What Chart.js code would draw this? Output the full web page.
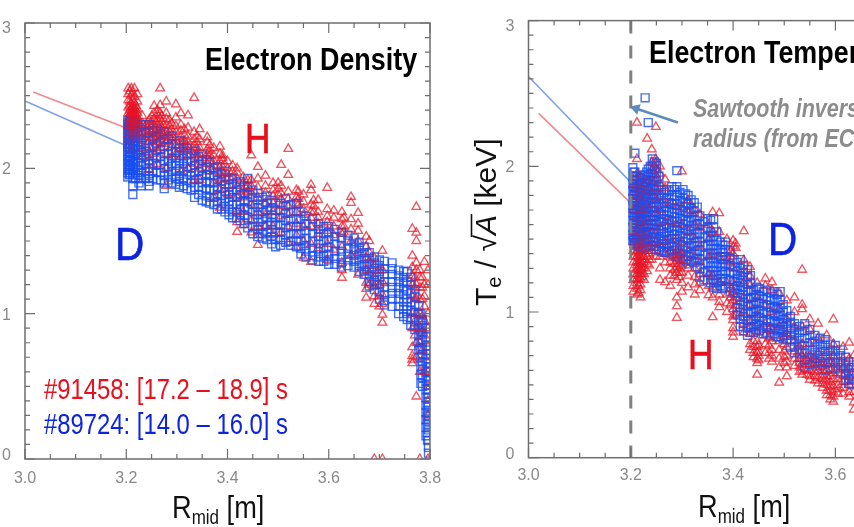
<!DOCTYPE html>
<html><head><meta charset="utf-8">
<script src="https://cdn.jsdelivr.net/npm/chart.js@4"></script>
<style>
html,body{margin:0;padding:0;background:#fff;overflow:hidden;width:854px;height:527px}
#page{position:relative;width:854px;height:527px;overflow:hidden}
canvas{position:absolute;top:0;filter:blur(.55px)}
</style></head><body><div id="page">
<canvas id="left" width="460" height="527" style="left:0;width:460px;height:527px"></canvas>
<canvas id="right" width="490" height="527" style="left:470px;width:490px;height:527px"></canvas>
</div>
<script>
const xTickValues=[3.0,3.2,3.4,3.6,3.8];
const yTickValues=[0,1,2,3];

const densityLineH=[[3.016,2.526],[3.2,2.278]];
const densityLineD=[[3.0,2.464],[3.2,2.155]];
const tempLineH=[[3.02,2.363],[3.2,1.747]];
const tempLineD=[[3.0,2.616],[3.2,1.89]];
const inversionRadius=[[3.2,3],[3.2,0]];
const arrowPath=[[3.292,2.30],[3.21,2.397]];

const densityHR=[3.204,3.21,3.216,3.222,3.232,3.245,3.255,3.262,3.267,3.279,3.29,3.298,3.308,3.322,3.334,3.345,3.36,3.373,3.385,3.4,3.419,3.431,3.447,3.46,3.475,3.49,3.506,3.52,3.536,3.55,3.565,3.579,3.597,3.61,3.626,3.644,3.658,3.674,3.69,3.706,3.765,3.773,3.78,3.789,3.796,
3.207,3.213,3.219,3.239,3.25,3.27,3.285,3.315,3.34,3.365,3.39,3.41,3.44,3.5,3.54,3.57,3.63,3.68,3.7,3.77,3.785];
const densityHValues=[
[2.55,2.51,2.47,2.42,2.38,2.35,2.32,2.29,2.26,2.23,2.2,2.16],
[2.55,2.5,2.44,2.41,2.39,2.37,2.35,2.33,2.31,2.29,2.27,2.24,2.2,2.12],
[2.55,2.49,2.45,2.42,2.4,2.38,2.36,2.34,2.32,2.3,2.28,2.25,2.22],
[2.51,2.46,2.41,2.38,2.35,2.33,2.3,2.27,2.24,2.2],
[2.36,2.31,2.28,2.25,2.2,2.14,2.08],
[2.33,2.3,2.27,2.23,2.18,2.11,2.05,1.99],
[2.43,2.38,2.34,2.3,2.27,2.24,2.2,2.15,2.1],
[2.4,2.37,2.33,2.3,2.26,2.22,2.18,2.12,2.03],
[2.55,2.435,2.38,2.34,2.3,2.27,2.24,2.2,2.14],
[2.46,2.38,2.34,2.3,2.26,2.22,2.18,2.1,2.0,1.88],
[2.31,2.27,2.23,2.2,2.15,2.08],
[2.44,2.35,2.29,2.25,2.21,2.16,2.1],
[2.38,2.3,2.26,2.22,2.18,2.14,2.08,1.98],
[2.365,2.28,2.22,2.18,2.15,2.12,2.08,2.0],
[2.485,2.25,2.2,2.16,2.13,2.09,2.03,1.92],
[2.27,2.2,2.14,2.1,2.06,2.0,1.92],
[2.215,2.18,2.13,2.1,2.07,2.03,1.98],
[2.14,2.09,2.05,2.02,1.98,1.9,1.8],
[2.15,2.1,2.05,2.01,1.97,1.92,1.85,1.73],
[2.05,2.0,1.96,1.93,1.88,1.82],
[2.0,1.97,1.93,1.88,1.8,1.7,1.63,1.563],
[1.94,1.9,1.85,1.8,1.7,1.61],
[2.09,1.92,1.88,1.83,1.75,1.64,1.56],
[2.01,1.93,1.87,1.8,1.7,1.6,1.543,1.474],
[1.95,1.88,1.83,1.76,1.68,1.6],
[1.9,1.85,1.81,1.76,1.7,1.6,1.54],
[2.024,1.88,1.83,1.79,1.74,1.67,1.56],
[2.134,1.955,1.84,1.79,1.74,1.68,1.6,1.488],
[1.85,1.8,1.76,1.7,1.62,1.54,1.46],
[1.82,1.77,1.72,1.68,1.6,1.5,1.385],
[1.887,1.85,1.75,1.7,1.66,1.6,1.48,1.357],
[1.783,1.7,1.66,1.62,1.55,1.45],
[1.866,1.72,1.67,1.63,1.57,1.48,1.371],
[1.71,1.66,1.6,1.54,1.44],
[1.7,1.65,1.6,1.55,1.46,1.35,1.3,1.247],
[1.803,1.763,1.65,1.58,1.5,1.4],
[1.694,1.62,1.57,1.5,1.42,1.268],
[1.53,1.46,1.38,1.3,1.213,1.17,1.11],
[1.385,1.33,1.25,1.186,1.12,1.068,0],
[1.433,1.3,1.22,1.13,1.068,0.993,0.938,0],
[1.584,1.399,1.32,1.26,1.2,1.12,1.0,0.9,0.77,0.71,0.684,0.66],
[1.735,1.557,1.5,1.35,1.3,1.2,1.1,1.0,0.9,0.8,0.7,0.43],
[1.3,1.25,1.18,1.1,1.0,0.9,0.8,0.6,0],
[1.357,1.2,1.12,1.05,0.95,0.85,0.7,0.6],
[1.3,1.2,1.0,0.9,0.77,0.6,0.5,0.4,0.3,0],
[2.53,2.46,2.43,2.4,2.37,2.35,2.33,2.31,2.29],
[2.52,2.47,2.43,2.4,2.38,2.36,2.34,2.32,2.3,2.28,2.26],
[2.43,2.4,2.37,2.35,2.33,2.31,2.29],
[2.3,2.26,2.22],
[2.36,2.32,2.29,2.25,2.21],
[2.36,2.32,2.28,2.25,2.22,2.17],
[2.33,2.29,2.25,2.21],
[2.27,2.23,2.19,2.16,2.13],
[2.22,2.18,2.14,2.1],
[2.16,2.12,2.09,2.05],
[2.09,2.07,2.05,2.01,1.97,1.93],
[2.02,1.98,1.94],
[1.92,1.88,1.84],
[1.9,1.86,1.82],
[1.84,1.79,1.75],
[1.78,1.74,1.7],
[1.66,1.6,1.56],
[1.5,1.42,1.36,1.28,1.2],
[1.3,1.2,1.12,1.05],
[1.25,1.18,1.1,0.95,0.85],
[1.25,1.18,1.1,0.98,0.88,0.75]];

const densityDR=[3.203,3.208,3.213,3.218,3.23,3.245,3.26,3.275,3.29,3.305,3.32,3.335,3.35,3.365,3.38,3.395,3.41,3.425,3.44,3.46,3.478,3.495,3.515,3.536,3.555,3.58,3.6,3.625,3.65,3.67,3.69,3.71,3.725,3.748,3.755,3.77,3.778,3.785,3.792,3.797,
3.206,3.225,3.238,3.252,3.268,3.283,3.298,3.313,3.328,3.343,3.358,3.373,3.388,3.403,3.418,3.433,3.45,3.469,3.487,3.505,3.525,3.545,3.568,3.59,3.612,3.638,3.66,3.68,3.7,3.738,3.762,3.782,3.795];
const densityDValues=[
[2.33,2.3,2.27,2.24,2.21,2.18,2.15,2.12,2.09,2.06,2.03,2.0,1.97,1.94],
[2.32,2.29,2.26,2.23,2.2,2.17,2.14,2.11,2.08,2.05,2.02,1.99,1.96],
[2.32,2.28,2.25,2.22,2.19,2.16,2.13,2.1,2.06,2.03,2.0,1.96,1.93,1.88,1.82],
[2.3,2.26,2.22,2.19,2.15,2.12,2.09,2.05,2.01,1.97,1.93],
[2.3,2.25,2.2,2.16,2.11,2.07,2.02,1.97,1.93,1.88],
[2.3,2.25,2.19,2.14,2.1,2.05,2.0,1.95,1.91,1.88],
[2.27,2.22,2.17,2.12,2.07,2.02,1.97,1.92],
[2.25,2.2,2.15,2.1,2.05,2.0,1.95,1.9,1.86],
[2.22,2.17,2.12,2.07,2.03,1.98,1.94,1.9],
[2.19,2.14,2.09,2.05,2.0,1.95,1.91,1.87],
[2.14,2.1,2.05,2.01,1.96,1.92,1.86],
[2.12,2.07,2.02,1.97,1.92,1.87,1.8],
[2.1,2.05,2.0,1.95,1.9,1.85,1.78],
[2.04,1.99,1.95,1.9,1.85,1.8,1.76],
[2.01,1.97,1.92,1.87,1.82,1.77,1.72],
[1.98,1.94,1.89,1.84,1.79,1.74,1.7],
[1.93,1.89,1.84,1.8,1.75,1.7,1.66],
[1.91,1.87,1.82,1.77,1.72,1.68,1.64],
[1.93,1.87,1.82,1.77,1.72,1.66,1.59],
[1.83,1.78,1.73,1.68,1.63,1.58,1.53],
[1.81,1.76,1.71,1.66,1.61,1.56,1.51],
[1.76,1.71,1.66,1.61,1.56,1.51,1.46],
[1.79,1.74,1.69,1.64,1.59,1.54,1.49],
[1.76,1.7,1.65,1.6,1.55,1.5,1.46],
[1.67,1.62,1.57,1.52,1.47,1.43,1.39],
[1.62,1.58,1.53,1.48,1.43,1.39,1.36],
[1.6,1.56,1.51,1.46,1.41,1.37,1.34],
[1.56,1.52,1.47,1.43,1.39,1.35,1.32],
[1.52,1.48,1.44,1.4,1.36,1.32],
[1.46,1.42,1.38,1.34,1.3,1.27],
[1.39,1.35,1.31,1.27,1.23,1.2,1.165],
[1.36,1.31,1.27,1.22,1.18,1.13,1.09,1.06],
[1.35,1.31,1.27,1.22,1.18,1.14,1.1,1.05],
[1.29,1.25,1.21,1.17,1.13,1.08,1.03,0.98],
[1.29,1.22,1.16,1.1,1.05,1.0,0.96],
[1.165,1.12,1.06,1.01,0.96,0.92,0.89],
[1.05,1.0,0.95,0.9,0.85,0.8,0.75],
[0.96,0.92,0.87,0.82,0.77,0.72,0.67,0.62,0.56,0.5],
[0.9,0.84,0.78,0.72,0.66,0.6,0.54,0.48,0.42,0.37,0.32,0.27,0.22,0.16],
[0.6,0.54,0.48,0.42,0.36,0.3,0.26,0.2,0.127,0.08,0.04],
[2.315,2.285,2.255,2.225,2.195,2.165,2.135,2.105,2.075,2.045,2.015,1.985,1.955],
[2.28,2.23,2.18,2.13,2.09,2.04,1.99,1.95,1.9],
[2.3,2.24,2.17,2.12,2.08,2.03,1.98,1.93],
[2.26,2.2,2.15,2.09,2.03,1.98,1.93],
[2.24,2.18,2.13,2.08,2.03,1.97,1.92],
[2.2,2.15,2.1,2.05,2.01,1.96,1.92],
[2.17,2.11,2.07,2.02,1.98,1.93,1.89],
[2.16,2.12,2.07,2.03,1.98,1.93,1.88],
[2.1,2.05,2.0,1.95,1.9,1.85],
[2.08,2.03,1.98,1.93,1.87,1.82],
[2.06,2.01,1.96,1.91,1.86,1.81,1.77],
[2.0,1.95,1.9,1.85,1.8,1.75],
[1.96,1.91,1.86,1.81,1.76,1.72],
[1.92,1.87,1.82,1.77,1.72,1.68],
[1.9,1.85,1.8,1.75,1.7,1.66],
[1.88,1.83,1.78,1.73,1.68,1.62],
[1.85,1.8,1.75,1.7,1.65,1.6,1.55],
[1.8,1.75,1.7,1.65,1.6,1.55,1.52],
[1.78,1.73,1.68,1.63,1.58,1.53,1.48],
[1.76,1.71,1.66,1.61,1.56,1.51,1.47],
[1.75,1.7,1.65,1.6,1.55,1.5,1.47],
[1.7,1.65,1.6,1.55,1.5,1.45,1.41],
[1.65,1.6,1.55,1.5,1.45,1.4,1.37],
[1.6,1.55,1.5,1.45,1.4,1.36],
[1.58,1.53,1.48,1.43,1.38,1.34],
[1.54,1.5,1.45,1.41,1.37,1.33],
[1.49,1.45,1.41,1.37,1.33,1.29],
[1.42,1.38,1.34,1.3,1.26,1.22,1.19],
[1.37,1.33,1.29,1.25,1.2,1.15,1.1],
[1.3,1.26,1.22,1.18,1.14,1.1,1.05,1.0],
[1.25,1.2,1.14,1.08,1.02,0.97,0.92],
[1.0,0.94,0.88,0.82,0.76,0.7,0.64,0.58,0.52],
[0.75,0.69,0.63,0.57,0.51,0.45,0.39,0.33,0.29,0.24,0.18,0.13]];

const tempHR=[3.205,3.212,3.219,3.226,3.232,3.241,3.249,3.257,3.267,3.277,3.29,3.3,3.312,3.325,3.335,3.352,3.36,3.373,3.388,3.4,3.421,3.433,3.447,3.463,3.476,3.49,3.505,3.52,3.535,3.55,3.566,3.583,3.596,3.615,3.627,3.636,
3.215,3.222,3.236,3.285,3.295,3.395,3.405,3.44,3.45,3.47,3.5,3.53,3.545,3.56,3.575,3.59,3.605];
const tempHValues=[
[1.88,1.82,1.76,1.7,1.62,1.55,1.48,1.42,1.38,1.34,1.3,1.26,1.22,1.18,1.14],
[2.3,2.05,1.95,1.87,1.8,1.72,1.64,1.56,1.5,1.45,1.41,1.38,1.35,1.32,1.29,1.26,1.23,1.2,1.16,1.12],
[1.93,1.85,1.78,1.7,1.62,1.55,1.48,1.44,1.41,1.38,1.35,1.32,1.29,1.26,1.23,1.19,1.15,1.1],
[1.88,1.8,1.7,1.6,1.52,1.46,1.42,1.38,1.34,1.3,1.26,1.22],
[2.19,1.9,1.82,1.72,1.62,1.54,1.47,1.42,1.38,1.33,1.28],
[2.116,2.03,1.97,1.9,1.82,1.74,1.64,1.54,1.47,1.42,1.36],
[2.27,2.05,2.02,1.98,1.94,1.9,1.85,1.78,1.68,1.58,1.48,1.42,1.38],
[2.0,1.95,1.88,1.8,1.7,1.58,1.46,1.38,1.3,1.22],
[1.91,1.85,1.75,1.62,1.48,1.4,1.34,1.205],
[1.75,1.62,1.5,1.42,1.38,1.34,1.3,1.25,1.18],
[1.72,1.6,1.5,1.42,1.38,1.35,1.31,1.27,1.22,1.1,1.04,0.96],
[1.965,1.72,1.6,1.48,1.4,1.36,1.32,1.27,1.2,1.14],
[1.767,1.68,1.55,1.42,1.35,1.3,1.25,1.17],
[1.7,1.6,1.5,1.38,1.3,1.24,1.19,1.12],
[1.67,1.58,1.45,1.34,1.26,1.2,1.15],
[1.6,1.5,1.38,1.26,1.18,1.116],
[1.685,1.55,1.4,1.25,1.17,1.1,0.965],
[1.678,1.55,1.38,1.2,1.12,1.07,1.034],
[1.5,1.35,1.2,1.12,1.06,1.0],
[1.49,1.45,1.4,1.3,1.2,1.14,1.08,1.02,0.97,0.945,0.89,0.86,0.83],
[1.555,1.356,1.28,1.2,1.1,1.0,0.92,0.86],
[1.31,1.25,1.18,1.05,0.93,0.85,0.78,0.74],
[1.2,1.1,0.98,0.86,0.8,0.76,0.72,0.68,0.65,0.57],
[1.23,1.18,1.05,0.92,0.84,0.78,0.72],
[1.205,1.15,1.0,0.88,0.8,0.74,0.7,0.66],
[1.13,1.02,0.9,0.8,0.74,0.68,0.62,0.515],
[1.08,0.95,0.85,0.76,0.7,0.66,0.62,0.56],
[1.1,1.0,0.9,0.8,0.73,0.68,0.63],
[1.29,1.05,1.02,0.9,0.78,0.7,0.64,0.6,0.57],
[0.95,0.88,0.78,0.7,0.64,0.6,0.56,0.535],
[0.92,0.82,0.72,0.65,0.6,0.55,0.51],
[0.84,0.72,0.65,0.6,0.56,0.53,0.5,0.46,0.43],
[0.95,0.78,0.7,0.64,0.58,0.54,0.49,0.45,0.42,0.385],
[0.76,0.68,0.62,0.56,0.52,0.48,0.44],
[0.79,0.68,0.62,0.56,0.5,0.45,0.42],
[0.7,0.6,0.52,0.45,0.38,0.33],
[1.47,1.43,1.4,1.37,1.34,1.31,1.28,1.25,1.22,1.18,1.13],
[1.46,1.42,1.39,1.36,1.33,1.3,1.27,1.24],
[1.44,1.4,1.36,1.32],
[1.4,1.37,1.33,1.29,1.25],
[1.42,1.39,1.36,1.33,1.3,1.27,1.24],
[1.42,1.38,1.34,1.16,1.1,1.05],
[1.47,1.44,1.1,1.04,0.98],
[0.8,0.76,0.72,0.69],
[0.77,0.73,0.7,0.67],
[0.88,0.82,0.77,0.72,0.68],
[0.83,0.78,0.73,0.69,0.65],
[0.76,0.72,0.68,0.65,0.62,0.59],
[0.7,0.67,0.64,0.6,0.57],
[0.68,0.65,0.62,0.59,0.56,0.53],
[0.66,0.63,0.6,0.57,0.54,0.51,0.48],
[0.65,0.6,0.56,0.52,0.49,0.46,0.43,0.4],
[0.62,0.58,0.54,0.5,0.47,0.44]];

const tempDR=[3.204,3.208,3.214,3.22,3.228,3.234,3.242,3.25,3.26,3.27,3.28,3.29,3.302,3.312,3.324,3.335,3.35,3.362,3.375,3.385,3.402,3.414,3.428,3.44,3.452,3.466,3.48,3.492,3.505,3.52,3.54,3.56,3.58,3.6,3.62,3.632,
3.206,3.211,3.217,3.224,3.231,3.238,3.246,3.255,3.265,3.275,3.285,3.296,3.307,3.318,3.33,3.343,3.356,3.368,3.38,3.394,3.408,3.42,3.434,3.446,3.459,3.473,3.486,3.498,3.512,3.53,3.55,3.57,3.59,3.61,3.626];
const tempDValues=[
[1.99,1.93,1.88,1.83,1.78,1.73,1.68,1.63,1.58,1.53,1.49],
[2.09,1.96,1.9,1.85,1.8,1.75,1.7,1.65,1.6,1.55,1.5,1.46],
[1.9,1.85,1.8,1.75,1.7,1.65,1.6,1.55,1.5,1.45],
[1.92,1.87,1.82,1.77,1.72,1.67,1.62,1.57,1.52,1.47],
[2.47,1.94,1.89,1.84,1.79,1.74,1.68,1.63,1.58,1.53,1.48,1.44],
[2.3,1.98,1.93,1.88,1.83,1.78,1.72,1.66,1.6,1.55,1.5,1.45],
[2.05,2.0,1.95,1.9,1.84,1.78,1.72,1.66,1.6,1.54,1.48],
[2.02,1.96,1.9,1.84,1.78,1.72,1.66,1.6,1.54,1.48,1.43],
[1.84,1.78,1.72,1.67,1.62,1.57,1.52,1.47,1.42],
[1.84,1.78,1.72,1.66,1.6,1.55,1.5,1.45,1.41],
[1.86,1.8,1.74,1.68,1.62,1.56,1.5,1.45,1.4],
[1.97,1.86,1.8,1.74,1.68,1.62,1.56,1.5,1.44,1.38],
[1.84,1.78,1.72,1.66,1.6,1.54,1.48,1.42,1.36],
[1.8,1.74,1.68,1.62,1.56,1.5,1.44,1.38,1.33],
[1.75,1.69,1.63,1.57,1.51,1.45,1.4,1.34],
[1.66,1.6,1.54,1.48,1.42,1.36,1.3,1.24],
[1.64,1.58,1.52,1.46,1.4,1.34,1.28,1.22],
[1.64,1.58,1.52,1.46,1.4,1.34,1.28,1.22,1.17],
[1.48,1.43,1.38,1.33,1.28,1.23,1.18],
[1.48,1.43,1.38,1.33,1.28,1.23,1.17],
[1.36,1.31,1.26,1.21,1.16,1.13],
[1.36,1.3,1.25,1.2,1.15,1.1,1.05,1.0,0.95,0.9],
[1.29,1.24,1.19,1.14,1.09,1.04,0.99,0.94,0.89,0.84],
[1.15,1.1,1.05,1.0,0.95,0.9,0.86],
[1.16,1.11,1.06,1.01,0.96,0.91,0.87],
[1.15,1.1,1.05,1.0,0.95,0.9,0.86],
[1.14,1.09,1.04,0.99,0.94,0.89,0.85],
[1.14,1.08,1.03,0.98,0.93,0.88,0.83],
[1.01,0.96,0.92,0.88,0.84,0.81],
[0.92,0.88,0.84,0.8,0.76,0.72],
[0.92,0.87,0.82,0.77,0.72,0.67,0.62],
[0.84,0.8,0.76,0.72,0.68,0.65],
[0.81,0.77,0.73,0.69,0.65,0.6],
[0.77,0.73,0.69,0.65,0.61],
[0.69,0.65,0.61,0.57,0.53],
[0.62,0.58,0.54,0.5],
[1.96,1.91,1.86,1.81,1.76,1.71,1.66,1.61,1.56,1.51,1.47],
[1.93,1.88,1.83,1.78,1.73,1.68,1.63,1.58,1.53,1.48],
[1.92,1.87,1.82,1.77,1.72,1.67,1.62,1.57,1.52,1.47],
[1.94,1.89,1.84,1.79,1.74,1.69,1.64,1.59,1.54,1.49,1.44],
[1.96,1.91,1.86,1.81,1.76,1.71,1.65,1.6,1.55,1.5,1.45],
[2.0,1.95,1.9,1.85,1.8,1.75,1.69,1.63,1.57,1.51,1.46],
[2.03,1.98,1.92,1.87,1.81,1.75,1.69,1.63,1.57,1.51,1.45],
[1.93,1.86,1.8,1.74,1.68,1.62,1.56,1.5,1.45,1.42],
[1.82,1.75,1.69,1.64,1.59,1.54,1.49,1.44,1.41],
[1.83,1.75,1.69,1.63,1.58,1.52,1.47,1.42],
[1.84,1.77,1.71,1.65,1.59,1.53,1.48,1.42],
[1.82,1.76,1.7,1.64,1.58,1.52,1.46,1.4],
[1.81,1.75,1.69,1.63,1.57,1.51,1.45,1.39,1.35],
[1.77,1.71,1.65,1.59,1.53,1.47,1.41,1.35],
[1.72,1.66,1.6,1.54,1.48,1.42,1.37,1.31],
[1.62,1.57,1.51,1.45,1.39,1.33,1.27,1.22],
[1.63,1.55,1.49,1.43,1.37,1.31,1.25,1.2],
[1.55,1.49,1.43,1.37,1.31,1.25,1.2,1.16],
[1.46,1.41,1.36,1.31,1.26,1.21,1.16],
[1.42,1.37,1.32,1.27,1.22,1.17,1.14],
[1.34,1.28,1.23,1.18,1.13,1.08,1.03,0.98],
[1.32,1.27,1.22,1.17,1.12,1.07,1.02,0.97,0.92,0.87],
[1.25,1.2,1.15,1.1,1.05,1.0,0.95,0.9,0.86],
[1.17,1.12,1.07,1.02,0.97,0.92,0.88],
[1.14,1.09,1.04,0.99,0.94,0.89,0.85],
[1.13,1.08,1.03,0.98,0.93,0.88,0.84],
[1.12,1.07,1.02,0.97,0.92,0.87,0.83],
[1.05,1.0,0.95,0.9,0.86,0.82],
[0.97,0.93,0.89,0.85,0.81,0.76],
[0.9,0.86,0.82,0.78,0.74,0.69],
[0.88,0.84,0.79,0.74,0.69,0.64],
[0.82,0.78,0.74,0.7,0.66,0.63],
[0.78,0.74,0.7,0.66,0.62],
[0.74,0.7,0.66,0.62,0.58],
[0.66,0.62,0.58,0.54,0.51]];

const black='#000';const red='#e8101c';const blue='#0c24e0';const gray='#8c8c8c';
const sans='"Liberation Sans"';
const leftNotes=[
 {x:205,y:70,sx:.867,color:black,runs:[{t:'Electron Density',font:`bold 31px ${sans}`}]},
 {x:245,y:153,sx:.82,bold:.7,color:red,runs:[{t:'H',font:`43px ${sans}`}]},
 {x:115,y:260,sx:.88,bold:.7,color:blue,runs:[{t:'D',font:`46px ${sans}`}]},
 {x:44,y:399,sx:.795,color:red,runs:[{t:'#91458: [17.2 – 18.9] s',font:`30px ${sans}`}]},
 {x:44,y:434,sx:.795,color:blue,runs:[{t:'#89724: [14.0 – 16.0] s',font:`30px ${sans}`}]},
 {x:172,y:518,sx:.85,color:'#111',runs:[{t:'R',font:`32px ${sans}`},{t:'mid',font:`20px ${sans}`,dy:6},{t:' [m]',font:`32px ${sans}`}]}
];
const rightNotes=[
 {x:179,y:63,sx:.867,color:black,runs:[{t:'Electron Temperature',font:`bold 31px ${sans}`}]},
 {x:223,y:117,sx:.86,color:gray,runs:[{t:'Sawtooth inversion',font:`italic bold 25px ${sans}`}]},
 {x:223,y:147,sx:.86,color:gray,runs:[{t:'radius (from ECE)',font:`italic bold 25px ${sans}`}]},
 {x:298,y:255,sx:.88,bold:.7,color:blue,runs:[{t:'D',font:`46px ${sans}`}]},
 {x:218,y:369,sx:.82,bold:.7,color:red,runs:[{t:'H',font:`43px ${sans}`}]},
 {x:228,y:517,sx:.85,color:'#111',runs:[{t:'R',font:`32px ${sans}`},{t:'mid',font:`20px ${sans}`,dy:6},{t:' [m]',font:`32px ${sans}`}]},
 {x:26,y:306,rot:-Math.PI/2,sx:1,color:'#111',runs:[{t:'T',font:`30px ${sans}`},{t:'e',font:`20px ${sans}`,dy:5},{t:' / √',font:`30px ${sans}`},{t:'A',font:`italic 30px ${sans}`,over:true},{t:' [keV]',font:`30px ${sans}`}]}
];

const toPoints=(rs,vals)=>rs.flatMap((r,i)=>vals[i].map(v=>({x:r,y:v})));
const toLine=p=>p.map(([x,y])=>({x,y}));

const framePlugin={id:'frame',afterDatasetsDraw(chart,_,o){
 const {ctx,chartArea:a,scales:{x,y}}=chart;
 ctx.save();ctx.strokeStyle='#6e6e6e';ctx.lineWidth=1.5;
 ctx.strokeRect(a.left,a.top,a.right-a.left,a.bottom-a.top);
 ctx.lineWidth=1.2;ctx.beginPath();
 for(let i=0;i<=16;i++){const p=x.getPixelForValue(3+i*.05);const L=i%4===0?10:5;
  ctx.moveTo(p,a.bottom);ctx.lineTo(p,a.bottom-L);ctx.moveTo(p,a.top);ctx.lineTo(p,a.top+L);}
 for(let i=0;i<=30;i++){const p=y.getPixelForValue(i*.1);const L=i%10===0?10:5;
  ctx.moveTo(a.left,p);ctx.lineTo(a.left+L,p);ctx.moveTo(a.right,p);ctx.lineTo(a.right-L,p);}
 ctx.stroke();
 for(const n of o.notes){
  ctx.save();ctx.translate(n.x,n.y);if(n.rot)ctx.rotate(n.rot);ctx.scale(n.sx,1);
  ctx.fillStyle=n.color;ctx.strokeStyle=n.color;ctx.textBaseline='alphabetic';ctx.textAlign='left';
  let cx=0;
  for(const r of n.runs){ctx.font=r.font;ctx.fillText(r.t,cx,r.dy||0);
   if(n.bold){ctx.lineWidth=n.bold;ctx.strokeText(r.t,cx,r.dy||0);}
   const w=ctx.measureText(r.t).width;
   if(r.over){ctx.lineWidth=1.6;ctx.beginPath();ctx.moveTo(cx-2,-24.5);ctx.lineTo(cx+w+1,-24.5);ctx.stroke();}
   cx+=w;}
  ctx.restore();
 }
 ctx.restore();
}};

const redMark={pointStyle:'triangle',radius:5,borderColor:'rgba(232,28,38,.62)',backgroundColor:'rgba(0,0,0,0)',borderWidth:1.3};
const redOver={pointStyle:'triangle',radius:5,borderColor:'rgba(232,20,40,.3)',backgroundColor:'rgba(0,0,0,0)',borderWidth:1.2};
const blueMark={pointStyle:'rect',radius:5.6,borderColor:'rgba(22,78,240,.8)',backgroundColor:'rgba(0,0,0,0)',borderWidth:1.4};
const lineStyle=(c,d)=>({data:toLine(d),showLine:true,borderColor:c,borderWidth:1.6,pointRadius:0,clip:false});

function make(id,sets,yWidth,pad,xPad,notes){
 return new Chart(document.getElementById(id),{type:'scatter',plugins:[framePlugin],
  data:{datasets:sets},
  options:{responsive:false,animation:false,
   layout:{padding:pad},
   plugins:{legend:{display:false},tooltip:{enabled:false},title:{display:false},frame:{notes}},
   scales:{
    x:{type:'linear',min:3,max:3.8,grid:{display:false},border:{display:false},
      afterFit:s=>{s.height=527-pad.bottomEdge},
      afterBuildTicks:s=>{s.ticks=xTickValues.map(v=>({value:v}))},
      ticks:{color:'#8a8a8a',font:{family:'Liberation Sans',size:16},padding:xPad,maxRotation:0,autoSkip:false,callback:v=>Number(v).toFixed(1)}},
    y:{type:'linear',min:0,max:3,grid:{display:false},border:{display:false},
      afterFit:s=>{s.width=yWidth},
      afterBuildTicks:s=>{s.ticks=yTickValues.map(v=>({value:v}))},
      ticks:{color:'#8a8a8a',font:{family:'Liberation Sans',size:16,lineHeight:'3px'},padding:6,autoSkip:false,
        callback:v=>v===3?['','','','','3']:v===0?['0','','']:['',String(v)]}}
   }}});
}
const densityH=toPoints(densityHR,densityHValues);
const tempH=toPoints(tempHR,tempHValues);
make('left',[
 {...redOver,data:densityH},
 {...blueMark,data:toPoints(densityDR,densityDValues)},
 {...redMark,data:densityH},
 lineStyle('#7fa2ea',densityLineD),
 lineStyle('#ef8a8e',densityLineH)
],25,{left:0,top:23,right:30,bottom:0,bottomEdge:459},2,leftNotes);
make('right',[
 {data:toLine(inversionRadius),showLine:true,borderColor:'#808080',borderWidth:3,borderDash:[13,12],pointRadius:0,clip:false},
 {data:toLine(arrowPath),showLine:true,borderColor:'#5d8abf',borderWidth:2.6,pointStyle:'triangle',pointRadius:[0,6.5],pointBorderWidth:0,pointBackgroundColor:'#5d8abf',pointRotation:-71.6},
 {...redOver,data:tempH},
 {...blueMark,data:toPoints(tempDR,tempDValues)},
 {...redMark,data:tempH},
 lineStyle('#7fa2ea',tempLineD),
 lineStyle('#ef8a8e',tempLineH)
],58.5,{left:0,top:20.6,right:22.3,bottom:0,bottomEdge:457.7},0,rightNotes);
</script></body></html>
